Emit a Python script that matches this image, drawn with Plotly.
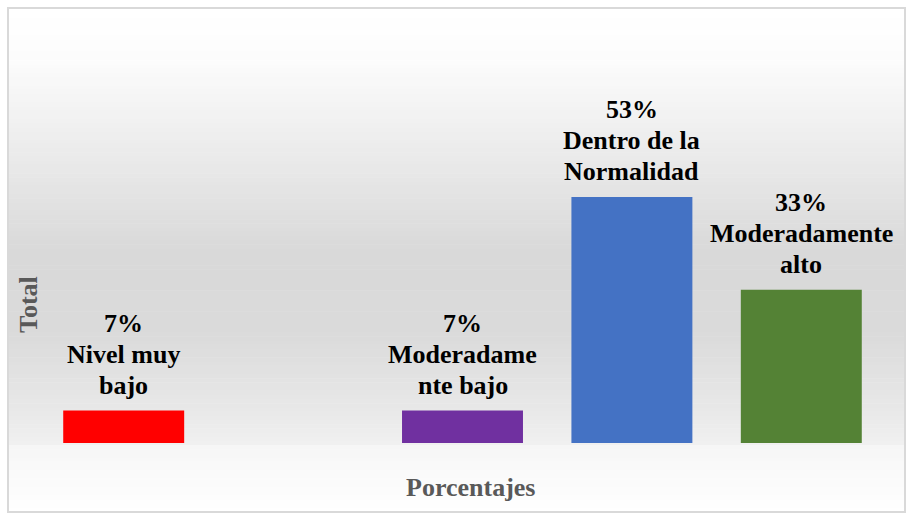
import plotly.graph_objects as go
import numpy as np

categories = ["Nivel muy bajo", "Nivel bajo", "Moderadamente bajo",
              "Dentro de la Normalidad", "Moderadamente alto"]
values = [7, 0, 7, 53, 33]
label_lines = [["Nivel muy", "bajo"], [], ["Moderadame", "nte bajo"],
               ["Dentro de la", "Normalidad"], ["Moderadamente", "alto"]]
colors = ["#FF0000", "#A5A5A5", "#7030A0", "#4472C4", "#548235"]

W, H = 907, 515
L, R, T, B = 39, 21, 30, 72
pw, ph = W - L - R, H - T - B
FONT = "'Times New Roman', 'Liberation Serif', serif"

def px_x(px):
    return (px - L) / pw

def px_y(py):
    return (H - B - py) / ph

fig = go.Figure()
fig.add_trace(go.Bar(
    x=categories, y=values, marker=dict(color=colors, line=dict(width=0)),
    hoverinfo="x+y", showlegend=False,
))

# background gradient bands (styling)
stops_px = [10, 60, 250, 330, 420, 443, 445, 512]
stops_g = [255, 252, 217, 218, 234, 240, 246, 255]
shapes = []
n = 120
edges = np.linspace(10, 512, n + 1)
for i in range(n):
    y0p, y1p = edges[i], edges[i + 1]
    g = int(round(np.interp((y0p + y1p) / 2, stops_px, stops_g)))
    shapes.append(dict(type="rect", xref="paper", yref="paper", layer="below",
                       x0=px_x(9), x1=px_x(904), y0=px_y(y1p + 0.5), y1=px_y(y0p),
                       fillcolor=f"rgb({g},{g},{g})", line=dict(width=0)))
shapes.append(dict(type="rect", xref="paper", yref="paper", layer="above",
                   x0=px_x(8), x1=px_x(905), y0=px_y(512), y1=px_y(8),
                   line=dict(color="#D9D9D9", width=2), fillcolor="rgba(0,0,0,0)"))

annotations = []
LINE = 31
for c, v, lines in zip(categories, values, label_lines):
    if v == 0:
        continue
    all_lines = [f"{v}%"] + lines
    for k, t in enumerate(reversed(all_lines)):
        annotations.append(dict(
            x=c, y=v, xref="x", yref="y", xanchor="center", yanchor="bottom",
            yshift=9 + k * LINE,
            text=f"<b>{t}</b>", showarrow=False, align="center",
            font=dict(family=FONT, size=26, color="#000000"),
        ))
annotations.append(dict(x=px_x(28), y=px_y(305), xref="paper", yref="paper",
                        xanchor="center", yanchor="middle",
                        text="<b>Total</b>", textangle=-90, showarrow=False,
                        font=dict(family=FONT, size=26, color="#595959")))
annotations.append(dict(x=px_x(470), y=px_y(487), xref="paper", yref="paper",
                        xanchor="center", yanchor="middle",
                        text="<b>Porcentajes</b>", showarrow=False,
                        font=dict(family=FONT, size=26, color="#595959")))

fig.update_layout(
    width=W, height=H,
    margin=dict(l=L, r=R, t=T, b=B),
    paper_bgcolor="white", plot_bgcolor="rgba(0,0,0,0)",
    bargap=0.286,
    font=dict(family=FONT),
    xaxis=dict(range=[-0.5, 4.5], showticklabels=False, showgrid=False, zeroline=False,
               showline=False, ticks=""),
    yaxis=dict(range=[0, 89], showticklabels=False, showgrid=False, zeroline=False,
               showline=False, ticks=""),
    shapes=shapes, annotations=annotations,
)

fig.write_html("out.html", config={"displayModeBar": False},
               post_script="document.body.style.margin='0';document.body.style.overflow='hidden';")
